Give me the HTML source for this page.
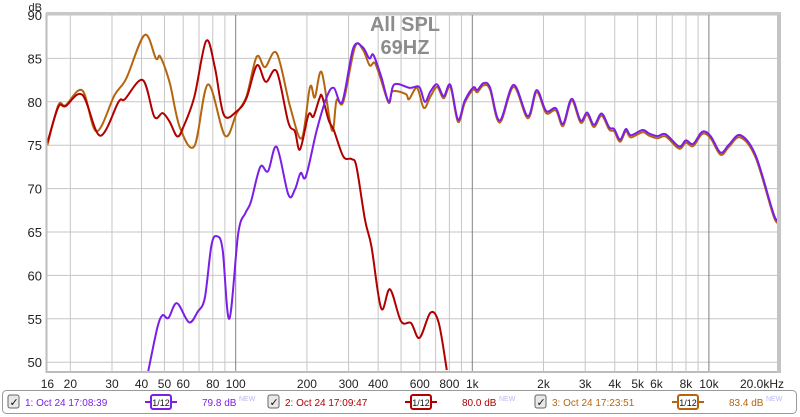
<!DOCTYPE html>
<html><head><meta charset="utf-8">
<style>
body{margin:0;width:800px;height:417px;background:#fff;overflow:hidden;font-family:"Liberation Sans",sans-serif}
svg{display:block}
</style></head>
<body>
<svg id="chart" width="800" height="417" viewBox="0 0 800 417" xmlns="http://www.w3.org/2000/svg">
<g id="grid"></g>
<g id="series"></g>
<rect x="46.5" y="14" width="732" height="358" fill="none" stroke="#bdbdbd" stroke-width="2"/>
<rect x="777" y="13" width="4" height="360" fill="#c4c4c4"/>
<rect x="46" y="12" width="735" height="3" fill="#c8c8c8"/>
<text x="42" y="11" font-size="11" text-anchor="end" fill="#222">dB</text>
<g id="yticks"></g>
<g id="xticks"></g>
<text x="405" y="31" font-size="20" font-weight="bold" text-anchor="middle" fill="#8c8c8c">All SPL</text>
<text x="405" y="54" font-size="20" font-weight="bold" text-anchor="middle" fill="#8c8c8c">69HZ</text>
<g>
<rect x="2.5" y="390.5" width="794" height="23" rx="4" fill="#fff" stroke="#9a9a9a"/>
</g>
<g id="legend-items"></g>
</svg>
<script>
// ---- data ----
var yTicks=[50,55,60,65,70,75,80,85,90];
var xTickVals=[16,20,30,40,50,60,80,100,200,300,400,600,800,1000,2000,3000,4000,5000,6000,8000,10000,20000];
var xTickLabels=["16","20","30","40","50","60","80","100","200","300","400","600","800","1k","2k","3k","4k","5k","6k","8k","10k","20.0kHz"];
var gridFreqs=[20,30,40,50,60,70,80,90,200,300,400,500,600,700,800,900,2000,3000,4000,5000,6000,7000,8000,9000];
var decadeFreqs=[100,1000,10000];

var hfFreq=[720,757,808,870,930,1010,1050,1115,1188,1305,1495,1715,1870,2050,2255,2420,2630,2870,3060,3270,3520,3790,3980,4210,4460,4680,5240,5590,6060,6570,7480,7990,8580,9380,10170,11200,12150,13600,15800,18900,20000];
var hfDb=[81.7,80.4,81.7,77.7,79.9,81.4,81.1,81.9,81.4,77.6,81.7,78.1,81.1,78.7,79.0,77.2,80.1,77.6,78.5,77.1,78.4,76.8,76.6,75.4,76.6,75.9,76.5,76.1,75.8,76.0,74.6,75.3,74.9,76.3,75.8,73.9,74.8,75.9,73.5,66.6,66.5];

var s3Freq=[16,17.8,19.1,22.5,25.8,30.8,34.5,41.2,46,48,52.6,58,66.9,76.4,90.1,101,111,122.7,133,149,170,190,206,216,231,255,267,285,319,345,368,386,405,443,460,523,540,584,624,665,710];
var s3Db=[75.0,79.6,79.6,81.3,76.6,80.8,82.7,87.7,85,85.2,82.2,77.1,74.9,82.0,76.1,78.7,80.6,85.2,84.0,85.6,79.4,75.8,81.7,80.5,83.4,76.7,80.2,80,86.3,86,84.2,84.5,83.1,79.9,81.2,80.9,80.3,81.6,79.3,80.6,81.7];

var s1Freq=[42.7,46.6,49,52,56.4,63.5,69,74,79,83.5,88,94,102.6,110,116,127,137,149,167,178,188,198,220,243,260,282,314,344,367,382,412,444,468,545,597,630,666,710];
var s1Db=[49,53.9,55.4,55.1,56.8,54.6,55.8,57.4,63.5,64.5,63,55,64.9,67.2,68.5,72.5,72.0,74.8,69.3,69.9,71.8,71.4,76.7,80.6,81.6,80,86.2,86.3,85,85.4,82.9,80.0,82.0,81.6,81.7,80,81.2,82.0];

var s2Freq=[16,17.8,19.1,22.5,26.7,32,34,40.5,45.3,49.1,52.6,56.7,60.5,66.9,75,81.6,89.1,101,111,123,134,149,167,178,187,203,213,226,232,247,260,285,309,324,352,375,412,449,500,551,598,666,722,780];
var s2Db=[75.3,79.4,79.5,80.8,76.1,80,80.3,82.5,78.3,78.7,77.7,76.0,77.3,80.6,87.0,84.0,78.5,78.9,80.4,84.2,82.3,83.5,77.6,76.6,74.5,78.5,78.3,80.4,80.6,77.9,76.7,73.7,73.4,72.5,66.4,63.3,56.2,58.4,54.7,54.5,52.8,55.7,54.5,49.1];

// ---- axes ----
var X0=235.7,DEC=236.6,Y90=15,PPD=8.68;
function xs(f){return X0+(Math.log10(f)-2)*DEC;}
function ys(d){return Y90+(90-d)*PPD;}
var NS="http://www.w3.org/2000/svg";
function mk(t,a,p){var e=document.createElementNS(NS,t);for(var k in a)e.setAttribute(k,a[k]);p.appendChild(e);return e;}

var grid=document.getElementById('grid');
yTicks.forEach(function(v){
  var l=mk('line',{x1:46,x2:778,y1:ys(v),y2:ys(v),stroke:'#c6c6c6','stroke-width':1},grid);
  
  
  var t=mk('text',{x:42,y:ys(v)+5,'font-size':13,'text-anchor':'end',fill:'#222'},document.getElementById('yticks'));
  
  
  t.textContent=v;
});
gridFreqs.forEach(function(f){
  var l=mk('line',{x1:xs(f),x2:xs(f),y1:14,y2:372,stroke:'#c6c6c6','stroke-width':1},grid);
  
  
});
decadeFreqs.forEach(function(f){
  var l=mk('line',{x1:xs(f),x2:xs(f),y1:14,y2:372,stroke:'#808080','stroke-width':1},grid);
  
  
});
xTickVals.forEach(function(f,i){
  var x=xs(f);if(i==xTickLabels.length-1)x=762;
  var t=mk('text',{x:x,y:388,'font-size':12,'text-anchor':'middle',fill:'#222'},document.getElementById('xticks'));
  
  
  t.textContent=xTickLabels[i];
});

function pathFor(fr,db){
  var p=fr.map(function(f,i){return [xs(f),ys(db[i])];});
  var d='M'+p[0][0].toFixed(1)+','+p[0][1].toFixed(1);
  for(var i=0;i<p.length-1;i++){
    var p0=p[i-1]||p[i],p1=p[i],p2=p[i+1],p3=p[i+2]||p2;
    var c1x=p1[0]+(p2[0]-p0[0])/6,c1y=p1[1]+(p2[1]-p0[1])/6;
    var c2x=p2[0]-(p3[0]-p1[0])/6,c2y=p2[1]-(p3[1]-p1[1])/6;
    d+='C'+c1x.toFixed(1)+','+c1y.toFixed(1)+' '+c2x.toFixed(1)+','+c2y.toFixed(1)+' '+p2[0].toFixed(1)+','+p2[1].toFixed(1);
  }
  return d;
}
var sg=document.getElementById('series');
var clip=mk('clipPath',{id:'pc'},mk('defs',{},sg));
mk('rect',{x:46,y:14,width:732,height:358},clip);
var hf1=hfDb.map(function(v){return v+0.25;});
var defs=[
 {name:'series-3-line',c:'#b5650f',f:s3Freq.concat(hfFreq.slice(1)),d:s3Db.concat(hfDb.slice(1))},
 {name:'series-2-line',c:'#b00000',f:s2Freq,d:s2Db},
 {name:'series-1-line',c:'#7a1ee8',f:s1Freq.concat(hfFreq.slice(1)),d:s1Db.concat(hf1.slice(1))}
];
defs.forEach(function(s){
  var p=mk('path',{d:pathFor(s.f,s.d),fill:'none',stroke:s.c,'stroke-width':2,'clip-path':'url(#pc)','stroke-linejoin':'round'},sg);
  
  
});

// ---- legend ----
var li=document.getElementById('legend-items');
var leg=[{x:8,c:'#7a1ee8',n:'1: Oct 24 17:08:39',v:'79.8 dB'},{x:268,c:'#b00000',n:'2: Oct 24 17:09:47',v:'80.0 dB'},{x:535,c:'#b5650f',n:'3: Oct 24 17:23:51',v:'83.4 dB'}];
leg.forEach(function(L,i){
  var g=mk('g',{},li);
  
  
  var cb=mk('rect',{x:L.x,y:395,width:11,height:13,rx:2,fill:'#e8e8e8',stroke:'#666'},g);
  
  
  var ck=mk('text',{x:L.x+1.5,y:406,'font-size':11,fill:'#111'},g);ck.textContent='✓';
  
  
  var t=mk('text',{x:L.x+17,y:406,'font-size':10,fill:L.c},g);t.textContent=L.n;
  
  
  var ix=L.x+137;
  mk('line',{x1:ix,x2:ix+32,y1:402,y2:402,stroke:L.c,'stroke-width':2},g);
  var sb=mk('rect',{x:ix+6,y:395,width:20,height:14,rx:2,fill:'#fff',stroke:L.c,'stroke-width':2},g);
  
  
  var st=mk('text',{x:ix+16,y:406,'font-size':9,'text-anchor':'middle',fill:'#111'},g);st.textContent='1/12';
  
  
  var v=mk('text',{x:L.x+194,y:406,'font-size':10,fill:L.c},g);v.textContent=L.v;
  
  
  var nw=mk('text',{x:L.x+231,y:401,'font-size':7,fill:'#b8b8f0'},g);nw.textContent='NEW';
  
  
});
</script>
</body></html>
